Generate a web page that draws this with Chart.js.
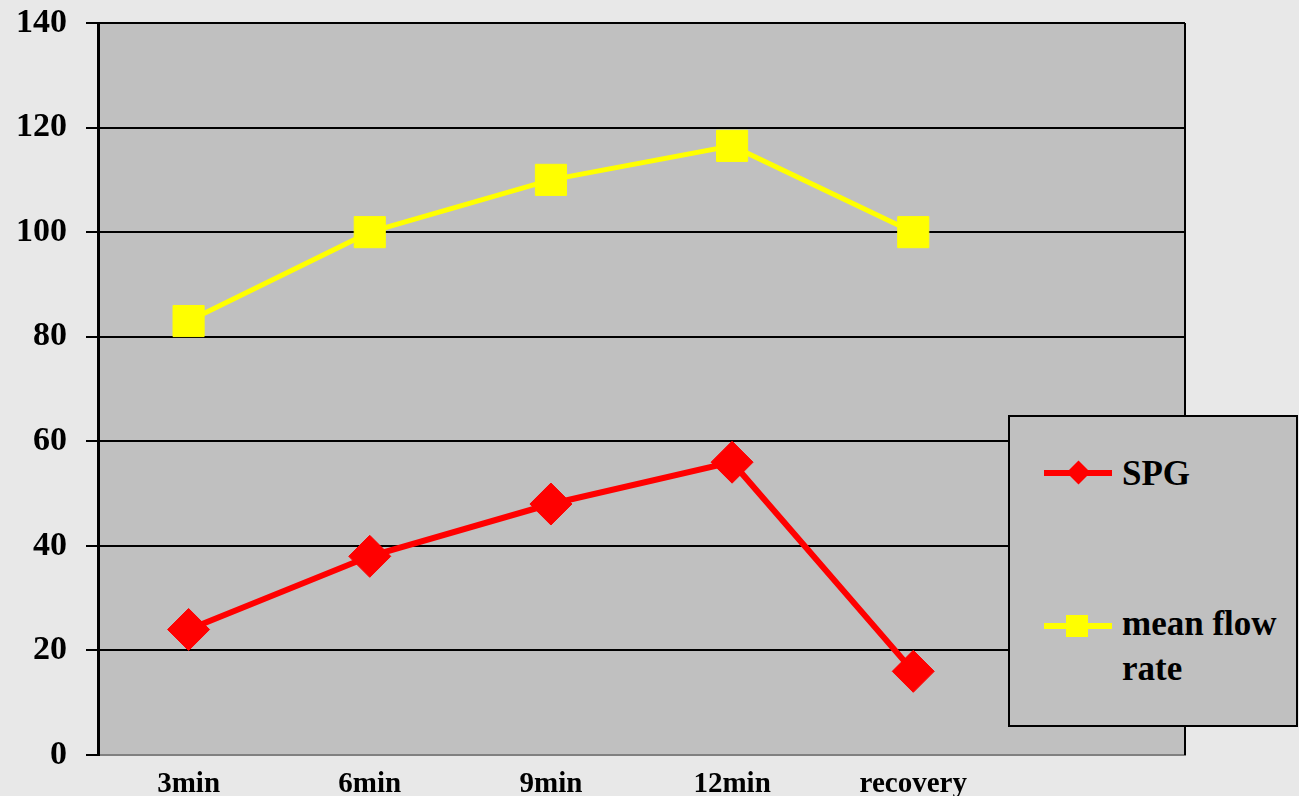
<!DOCTYPE html>
<html>
<head>
<meta charset="utf-8">
<script src="https://cdn.jsdelivr.net/npm/chart.js@4.4.1/dist/chart.umd.min.js"></script>
<style>
    html, body { margin: 0; padding: 0; background: #e8e8e8; }
    #wrap { position: relative; width: 1299px; height: 796px; }
    #legend {
        position: absolute; left: 1008px; top: 415px; width: 286px; height: 308px;
        border: 2px solid #000; background: #c0c0c0;
        font-family: "Liberation Serif", "Times New Roman", serif; font-weight: bold;
        font-size: 35px; line-height: 45px; color: #000;
    }
    .leg-line { position: absolute; left: 34px; width: 68px; height: 6px; }
    .leg-text { position: absolute; left: 112px; }
</style>
</head>
<body>
<div id="wrap">
    <canvas id="chart" width="1299" height="796"></canvas>
    <div id="legend">
        <div class="leg-line" style="top:53px; background:#ff0000;"></div>
        <div style="position:absolute; left:60px; top:47px; width:17px; height:17px; background:#ff0000; transform:rotate(45deg);"></div>
        <div class="leg-text" style="top:34px;">SPG</div>
        <div class="leg-line" style="top:206px; background:#ffff00;"></div>
        <div style="position:absolute; left:56px; top:198px; width:22px; height:22px; background:#ffff00;"></div>
        <div class="leg-text" style="top:184px;">mean flow<br>rate</div>
    </div>
</div>
<script>
// categories (last slot is empty, as in the original)
const categories = ["3min", "6min", "9min", "12min", "recovery", ""];

// series values
const spgValues = [24, 38, 48, 56, 16];
const flowValues = [83, 100, 110, 116.5, 100];

// y tick labels
const yTicks = [0, 20, 40, 60, 80, 100, 120, 140];

const serif = '"Liberation Serif", "Times New Roman", serif';

// gray plot area + right border
const plotArea = {
    id: 'plotArea',
    beforeDraw(chart) {
        const { ctx, chartArea: a } = chart;
        ctx.save();
        ctx.fillStyle = '#c0c0c0';
        ctx.fillRect(a.left, a.top, a.right - a.left, a.bottom - a.top);
        ctx.restore();
    },
    afterDatasetsDraw(chart) {
        const { ctx, chartArea: a } = chart;
        ctx.save();
        ctx.strokeStyle = '#000';
        ctx.lineWidth = 2;
        ctx.beginPath();
        ctx.moveTo(a.right, a.top);
        ctx.lineTo(a.right, a.bottom);
        ctx.stroke();
        ctx.restore();
    }
};

const chartCanvas = document.getElementById("chart");

let mainChart = new Chart(chartCanvas, {
    type: 'line',
    data: {
        labels: categories,
        datasets: [{
            label: 'SPG',
            data: spgValues,
            borderColor: '#ff0000',
            backgroundColor: '#ff0000',
            borderWidth: 6,
            pointStyle: 'rectRot',
            pointRadius: 21,
            pointBorderWidth: 1,
            tension: 0
        }, {
            label: 'mean flow rate',
            data: flowValues,
            borderColor: '#ffff00',
            backgroundColor: '#ffff00',
            borderWidth: 5,
            pointStyle: 'rect',
            pointRadius: 22,
            pointBorderWidth: 1,
            tension: 0
        }]
    },
    options: {
        responsive: false,
        animation: false,
        layout: {
            padding: { top: 20, right: 114, left: 0, bottom: 0 }
        },
        scales: {
            x: {
                offset: true,
                grid: { display: false },
                border: { display: true, color: '#808080', width: 1 },
                ticks: {
                    autoSkip: false,
                    maxRotation: 0,
                    padding: 4,
                    color: '#000',
                    font: { family: serif, size: 29, weight: 'bold' }
                },
                afterFit(scale) {
                    scale.height = 41;
                    scale.paddingLeft = 0;
                    scale.paddingRight = 0;
                }
            },
            y: {
                min: 0,
                max: 140,
                afterBuildTicks(scale) {
                    scale.ticks = yTicks.map(v => ({ value: v }));
                },
                grid: {
                    color: (c) => c.tick && c.tick.value === 0 ? '#808080' : '#000',
                    tickColor: '#000',
                    lineWidth: 2,
                    tickLength: 12
                },
                border: { display: true, color: '#000', width: 3 },
                ticks: {
                    padding: 19,
                    color: '#000',
                    font: { family: serif, size: 34, weight: 'bold' }
                },
                afterFit(scale) {
                    scale.width = 98;
                    scale.paddingTop = 0;
                    scale.paddingBottom = 0;
                }
            }
        },
        plugins: {
            legend: { display: false },
            tooltip: { enabled: false }
        }
    },
    plugins: [plotArea]
});
</script>
</body>
</html>
